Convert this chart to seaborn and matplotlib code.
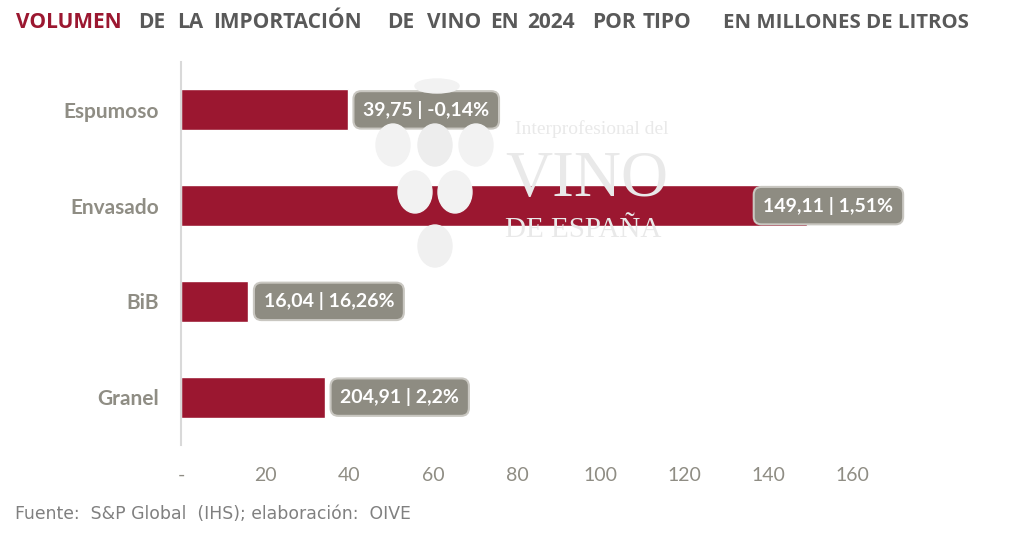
import matplotlib
matplotlib.use("Agg")
import matplotlib.pyplot as plt
from matplotlib.patches import Ellipse
import seaborn as sns
import pandas as pd

categories = ["Espumoso", "Envasado", "BiB", "Granel"]
bar_values = [39.75, 149.11, 16.04, 34.3]
value_labels = ["39,75", "149,11", "16,04", "204,91"]
change_labels = ["-0,14%", "1,51%", "16,26%", "2,2%"]
tick_values = [0, 20, 40, 60, 80, 100, 120, 140, 160]
tick_labels = ["-", "20", "40", "60", "80", "100", "120", "140", "160"]

sns.set_theme(style="white")
plt.rcParams["font.family"] = ["Lato", "DejaVu Sans"]

df = pd.DataFrame({"tipo": categories, "valor": bar_values})

W, H = 1034, 537
fig = plt.figure(figsize=(W/100, H/100), dpi=100)
ax = fig.add_axes([181/W, 1-445/H, (899-181)/W, (445-62)/H])
ax.patch.set_alpha(0)

# watermark (grape logo + text)
grapes = [(393, 145, "#f2f2f2"), (435, 145, "#ededed"), (476, 145, "#f2f2f2"),
          (415, 192, "#f2f2f2"), (455, 192, "#f2f2f2"), (435, 246, "#f0f0f0")]
for (cx, cy, c) in grapes:
    fig.patches.append(Ellipse((cx/W, 1-cy/H), 34/W, 42/H,
                               transform=fig.transFigure, color=c, zorder=0))
fig.patches.append(Ellipse((437/W, 1-86/H), 44/W, 14/H,
                           transform=fig.transFigure, color="#f2f2f2", zorder=0))
wm = "#e9e9e9"
fig.text(515/W, 1-129/H, "Interprofesional del", family="Liberation Serif",
         fontsize=14, color=wm, va="center", ha="left", zorder=0)
fig.text(505/W, 1-180/H, "VINO", family="Liberation Serif", fontsize=47,
         color=wm, va="center", ha="left", zorder=0)
fig.text(505/W, 1-230/H, "DE ESPAÑA", family="Liberation Serif", fontsize=21,
         color=wm, va="center", ha="left", zorder=0)

sns.barplot(data=df, x="valor", y="tipo", orient="h", color="#9b1730",
            width=0.43, ax=ax, saturation=1, zorder=2)

xmax = 171
ax.set_xlim(0, xmax)
ax.set_ylim(3.5, -0.5)
ax.set_xlabel("")
ax.set_ylabel("")
for s in ["top", "right", "bottom"]:
    ax.spines[s].set_visible(False)
ax.spines["left"].set_color("#d9d9d9")
ax.spines["left"].set_linewidth(1.5)

label_gray = "#8f8d84"
ax.set_xticks(tick_values)
ax.set_xticklabels(tick_labels, fontsize=14, color=label_gray)
ax.tick_params(axis="x", length=0, pad=16)
ax.set_yticks(range(len(categories)))
ax.set_yticklabels(categories, fontsize=15, color=label_gray, fontweight="bold")
ax.tick_params(axis="y", length=0, pad=16)

box = dict(boxstyle="round,pad=0.5,rounding_size=0.4", fc="#8e8c82",
           ec="#c9c7c1", lw=1.5)
for i, (v, a, b) in enumerate(zip(bar_values, value_labels, change_labels)):
    txt = f"{a} | {b}"
    if v > 120:
        ax.annotate(txt, xy=(xmax, i), xytext=(-4, 0), textcoords="offset points",
                    ha="right", va="center", color="white", fontsize=14,
                    fontweight="bold", bbox=box, zorder=5)
    else:
        ax.annotate(txt, xy=(v, i), xytext=(11, 0), textcoords="offset points",
                    ha="left", va="center", color="white", fontsize=14,
                    fontweight="bold", bbox=box, zorder=5)

# title, in word groups
title_words = ["VOLUMEN", "DE", "LA", "IMPORTACIÓN", "DE", "VINO", "EN", "2024",
               "POR", "TIPO", "EN MILLONES DE LITROS"]
title_x = [16, 138, 177, 213, 387, 427, 490, 527, 592, 643, 723]
for k, (w, x) in enumerate(zip(title_words, title_x)):
    fig.text(x/W, 1-23/H, w, family=["Open Sans", "DejaVu Sans"],
             fontsize=14.7 if k == len(title_words) - 1 else 15,
             fontweight="bold", color="#9b1730" if k == 0 else "#595959",
             va="center", ha="left")

fig.text(15/W, 1-514/H, "Fuente:  S&P Global  (IHS); elaboración:  OIVE",
         family="DejaVu Sans", fontsize=12.4, color="#808080", va="center", ha="left")

fig.savefig("out.png", dpi=100)
